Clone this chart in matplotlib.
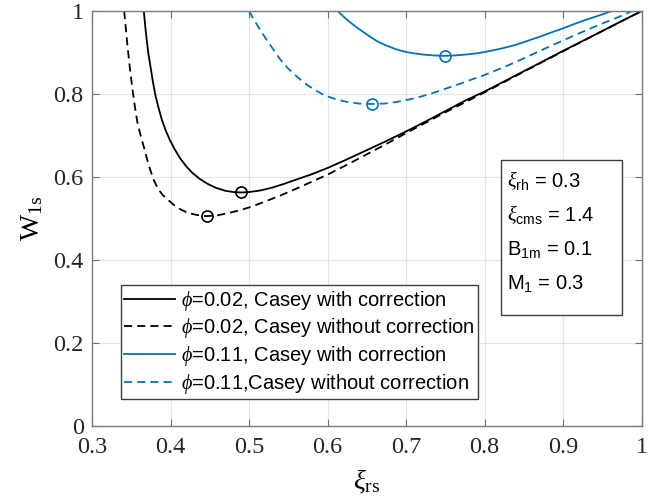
import matplotlib.pyplot as plt
from matplotlib.patches import Rectangle

plt.rcParams['font.family'] = ['Liberation Serif', 'DejaVu Serif']
plt.rcParams['mathtext.fontset'] = 'custom'
plt.rcParams['mathtext.rm'] = 'Liberation Serif'
plt.rcParams['mathtext.it'] = 'Liberation Serif:italic'
plt.rcParams['mathtext.sf'] = 'Liberation Sans'

BLUE = '#0072BD'

# phi = 0.02, with correction
x_a = [0.366, 0.368, 0.370, 0.372, 0.375, 0.378, 0.381, 0.385, 0.389, 0.394, 0.399, 0.405,
       0.412, 0.420, 0.428, 0.437, 0.447, 0.458, 0.470, 0.480, 0.490, 0.500, 0.515, 0.530,
       0.545, 0.560, 0.580, 0.600, 0.625, 0.650, 0.675, 0.700, 0.725, 0.750, 0.777, 0.800,
       0.850, 0.900, 0.950, 1.000]
y_a = [1.000, 0.960, 0.925, 0.895, 0.860, 0.825, 0.795, 0.765, 0.738, 0.712, 0.690, 0.668,
       0.646, 0.626, 0.610, 0.596, 0.584, 0.574, 0.567, 0.564, 0.563, 0.564, 0.568, 0.575,
       0.584, 0.594, 0.607, 0.622, 0.643, 0.665, 0.687, 0.710, 0.734, 0.759, 0.786, 0.806,
       0.855, 0.904, 0.952, 1.000]
# phi = 0.02, without correction
x_b = [0.341, 0.343, 0.345, 0.347, 0.349, 0.352, 0.355, 0.358, 0.362, 0.367, 0.372, 0.378,
       0.384, 0.390, 0.397, 0.405, 0.413, 0.422, 0.433, 0.446, 0.460, 0.475, 0.490, 0.505,
       0.520, 0.539, 0.560, 0.580, 0.600, 0.625, 0.650, 0.675, 0.700, 0.725, 0.750, 0.777,
       0.800, 0.850, 0.900, 0.950, 1.000]
y_b = [1.000, 0.960, 0.920, 0.885, 0.850, 0.805, 0.765, 0.730, 0.700, 0.666, 0.630, 0.596,
       0.572, 0.557, 0.545, 0.532, 0.522, 0.514, 0.509, 0.506, 0.508, 0.514, 0.521, 0.530,
       0.541, 0.555, 0.572, 0.589, 0.606, 0.630, 0.655, 0.680, 0.706, 0.731, 0.756, 0.782,
       0.804, 0.854, 0.903, 0.952, 1.000]
# phi = 0.11, with correction
x_c = [0.613, 0.620, 0.628, 0.636, 0.645, 0.655, 0.665, 0.676, 0.687, 0.698, 0.710, 0.722,
       0.735, 0.749, 0.762, 0.775, 0.790, 0.805, 0.820, 0.837, 0.853, 0.870, 0.886, 0.901,
       0.916, 0.931, 0.947, 0.962]
y_c = [1.000, 0.987, 0.974, 0.962, 0.950, 0.937, 0.925, 0.916, 0.908, 0.902, 0.898, 0.895,
       0.893, 0.892, 0.893, 0.895, 0.898, 0.903, 0.909, 0.917, 0.927, 0.938, 0.949, 0.959,
       0.970, 0.980, 0.990, 1.000]
# phi = 0.11, without correction
x_d = [0.500, 0.506, 0.512, 0.517, 0.523, 0.530, 0.536, 0.542, 0.550, 0.558, 0.566, 0.574,
       0.583, 0.592, 0.602, 0.613, 0.625, 0.640, 0.656, 0.672, 0.688, 0.704, 0.719, 0.735,
       0.752, 0.769, 0.785, 0.800, 0.825, 0.850, 0.875, 0.901, 0.925, 0.950, 0.970, 0.988]
y_d = [1.000, 0.980, 0.961, 0.946, 0.929, 0.910, 0.893, 0.878, 0.861, 0.847, 0.834, 0.822,
       0.811, 0.801, 0.793, 0.786, 0.781, 0.777, 0.776, 0.777, 0.781, 0.787, 0.794, 0.803,
       0.814, 0.825, 0.836, 0.846, 0.865, 0.886, 0.908, 0.930, 0.950, 0.970, 0.985, 1.000]

# minima
min_x = [0.490, 0.446, 0.749, 0.656]
min_y = [0.563, 0.506, 0.892, 0.776]

labels = [r'$\phi$=0.02, Casey with correction',
          r'$\phi$=0.02, Casey without correction',
          r'$\phi$=0.11, Casey with correction',
          r'$\phi$=0.11,Casey without correction']

fig, ax = plt.subplots(figsize=(6.57, 5.04), dpi=100)
fig.subplots_adjust(left=0.140, right=0.9767, bottom=0.1542, top=0.9782)

dash = (0, (4.5, 2.8))
lw = 1.3
l1, = ax.plot(x_a, y_a, color='black', lw=lw)
l2, = ax.plot(x_b, y_b, color='black', lw=lw, linestyle=dash)
l3, = ax.plot(x_c, y_c, color=BLUE, lw=lw)
l4, = ax.plot(x_d, y_d, color=BLUE, lw=lw, linestyle=dash)

cols = ['black', 'black', BLUE, BLUE]
for xm, ym, c in zip(min_x, min_y, cols):
    ax.plot(xm, ym, 'o', mfc='none', mec=c, ms=8, mew=1.2)

ax.set_xlim(0.3, 1)
ax.set_ylim(0, 1)
xt = [0.3, 0.4, 0.5, 0.6, 0.7, 0.8, 0.9, 1.0]
yt = [0, 0.2, 0.4, 0.6, 0.8, 1.0]
ax.set_xticks(xt)
ax.set_xticklabels(['%g' % v for v in xt])
ax.set_yticks(yt)
ax.set_yticklabels(['%g' % v for v in yt])
ax.tick_params(direction='in', length=5, width=0.8, top=True, right=True,
               labelsize=17.5, colors='#6e6e6e', labelcolor='#262626')
ax.tick_params(axis='x', pad=8)
ax.tick_params(axis='y', pad=6)
ax.grid(True, color='#e4e4e4', lw=0.8)
ax.set_axisbelow(True)
for s in ax.spines.values():
    s.set_color('#7a7a7a')
    s.set_linewidth(1.0)

ax.set_xlabel(r'$\xi_{\rm rs}$', fontsize=20, labelpad=7)
ax.set_ylabel(r'W$_{\rm 1s}$', fontsize=20, labelpad=6)

leg = ax.legend([l1, l2, l3, l4], labels, loc='lower left', bbox_to_anchor=(0.052, 0.065),
                borderaxespad=0, fancybox=False, framealpha=1, edgecolor='#404040',
                prop={'family': ['Liberation Sans', 'DejaVu Sans'], 'size': 14.5},
                handlelength=2.5, handletextpad=0.3, labelspacing=0.18, borderpad=0.18)
leg.get_frame().set_linewidth(1.0)

ax.add_patch(Rectangle((0.7435, 0.268), 0.22, 0.372, transform=ax.transAxes,
                       fill=True, facecolor='white', edgecolor='#404040', lw=1.0, zorder=5))
box_lines = [r'$\xi_{\mathsf{rh}}$ = 0.3',
             r'$\xi_{\mathsf{cms}}$ = 1.4',
             r'B$_{\mathsf{1m}}$ = 0.1',
             r'M$_{\mathsf{1}}$ = 0.3']
for i, t in enumerate(box_lines):
    ax.text(0.755, 0.592 - i * 0.083, t, transform=ax.transAxes, fontsize=14.5,
            family=['Liberation Sans', 'DejaVu Sans'], va='center', ha='left', zorder=6)

fig.savefig('out.png', dpi=100)
